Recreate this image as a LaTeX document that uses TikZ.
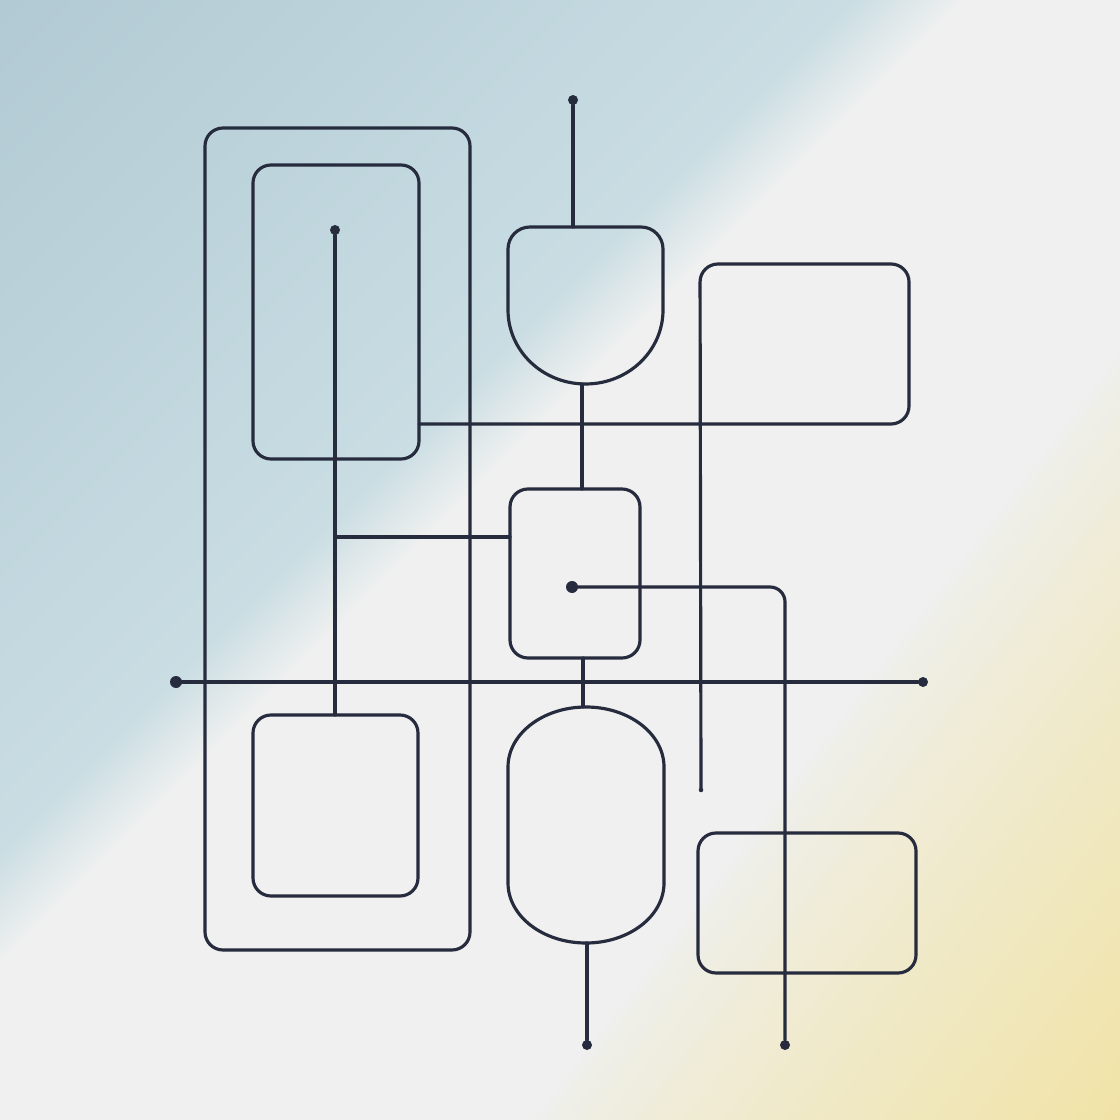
\documentclass[tikz,border=0pt]{standalone}
\usetikzlibrary{calc, positioning}
\definecolor{ink}{RGB}{38, 43, 61}
\definecolor{skyblue}{RGB}{178, 202, 212}
\definecolor{skylight}{RGB}{201, 221, 227}
\definecolor{paper}{RGB}{239, 240, 239}
\definecolor{straw}{RGB}{241, 227, 166}
\pgfdeclarehorizontalshading{backdrop}{100bp}{color(0bp)=(skyblue); color(14.6bp)=(skyblue); color(41.5bp)=(skylight); color(45bp)=(paper); color(100bp)=(paper)}

\begin{document}
\begin{tikzpicture}[
	x=0.1mm, y=-0.1mm,
	% Styles
	wire/.style={draw=ink, line width=0.9pt, line cap=round, line join=round},
	panel/.style={wire, rounded corners=1.8mm, inner sep=0pt, outer sep=0pt},
	bigdot/.style={circle, fill=ink, inner sep=0pt, outer sep=0pt, minimum size=1.2mm},
	dot/.style={circle, fill=ink, inner sep=0pt, outer sep=0pt, minimum size=1.0mm},
	tinydot/.style={circle, fill=ink, inner sep=0pt, outer sep=0pt, minimum size=0.45mm}
	]
	
	% ==========================================
	% BACKGROUND
	% ==========================================
	\useasboundingbox (0,0) rectangle (1120,1120);
	\shade[shading=backdrop, shading angle=-45] (0,0) rectangle (1120,1120);
	
	% warm glow towards the lower right, laid as thin bands
	\begin{scope}
		\clip (0,0) rectangle (1120,1120);
		\foreach \k in {0,...,59} {
			\pgfmathsetmacro\qa{1105+\k*7.9}
			\pgfmathsetmacro\qb{\qa+(\k==59 ? 60 : 8.5)}
			\pgfmathsetmacro\p{100*((\k+0.5)/60)^0.75}
			\fill[straw!\p!paper] ($\qa*(0.795,0.607)+(910,-1190)$) -- ($\qb*(0.795,0.607)+(910,-1190)$)
				-- ($\qb*(0.795,0.607)+(-910,1190)$) -- ($\qa*(0.795,0.607)+(-910,1190)$) -- cycle;
		}
	\end{scope}
	
	% ==========================================
	% LEFT COLUMN: nested frames
	% ==========================================
	\node[panel, minimum width=26.5mm, minimum height=82.2mm] (outerBox) at (337.5,539) {};
	\node[panel, minimum width=16.6mm, minimum height=29.4mm] (innerBox) at (336,312) {};
	\node[panel, minimum width=16.5mm, minimum height=18.1mm] (lowBox) at (335.5,805.5) {};
	
	\node[dot] (dotInner) at (335,230) {};
	\draw[wire] (dotInner) -- (dotInner |- lowBox.north);
	
	% ==========================================
	% MIDDLE COLUMN: shield, box and capsule
	% ==========================================
	% Shield (flat top, round bottom)
	\draw[wire] (508,310) -- (508,249) arc[start angle=180, end angle=90, radius=2.2mm]
		-- (641,227) arc[start angle=90, end angle=0, radius=2.2mm]
		-- (663,310) arc[start angle=0, end angle=-180, x radius=7.75mm, y radius=7.4mm];
	\coordinate (shieldTop) at (573,227);
	\coordinate (shieldBot) at (582,384);
	
	\node[dot] (dotTop) at (573,100) {};
	\draw[wire] (dotTop) -- (shieldTop);
	
	% Middle box
	\node[panel, minimum width=13mm, minimum height=16.9mm] (midBox) at (575,573.5) {};
	\coordinate (midTap) at (510,537);
	\draw[wire] (shieldBot) -- (shieldBot |- midBox.north);
	\draw[wire] (dotInner |- midTap) -- (midTap);
	
	% Capsule
	\draw[wire] (508,767) arc[start angle=180, end angle=0, x radius=7.8mm, y radius=6mm]
		-- (664,883) arc[start angle=0, end angle=-180, x radius=7.8mm, y radius=6mm] -- cycle;
	\coordinate (pillTop) at (583,707);
	\coordinate (pillBot) at (587,943);
	\draw[wire] (pillTop |- midBox.south) -- (pillTop);
	
	\node[dot] (dotPill) at (587,1045) {};
	\draw[wire] (pillBot) -- (dotPill);
	
	% ==========================================
	% RIGHT COLUMN: open frame and lower box
	% ==========================================
	\node[tinydot] (dotTail) at (701,790) {};
	\coordinate (frameBot) at (909,424);
	\draw[wire, rounded corners=1.8mm] (dotTail.center) -- (700,264) -- (909,264) -- (frameBot) -- (innerBox.east |- frameBot);
	
	\node[panel, minimum width=21.8mm, minimum height=14mm] (lowRightBox) at (807,903) {};
	
	% Bent wire from the middle dot
	\node[bigdot] (dotMid) at (572,587) {};
	\node[dot] (dotSE) at (785,1045) {};
	\coordinate (bendSE) at (785,587);
	\draw[wire, rounded corners=1.5mm] (dotMid) -- (bendSE) -- (dotSE);
	
	% Long horizontal rail
	\node[bigdot] (dotW) at (176,682) {};
	\node[dot] (dotE) at (923,682) {};
	\draw[wire] (dotW) -- (dotE);
	
\end{tikzpicture}
\end{document}
